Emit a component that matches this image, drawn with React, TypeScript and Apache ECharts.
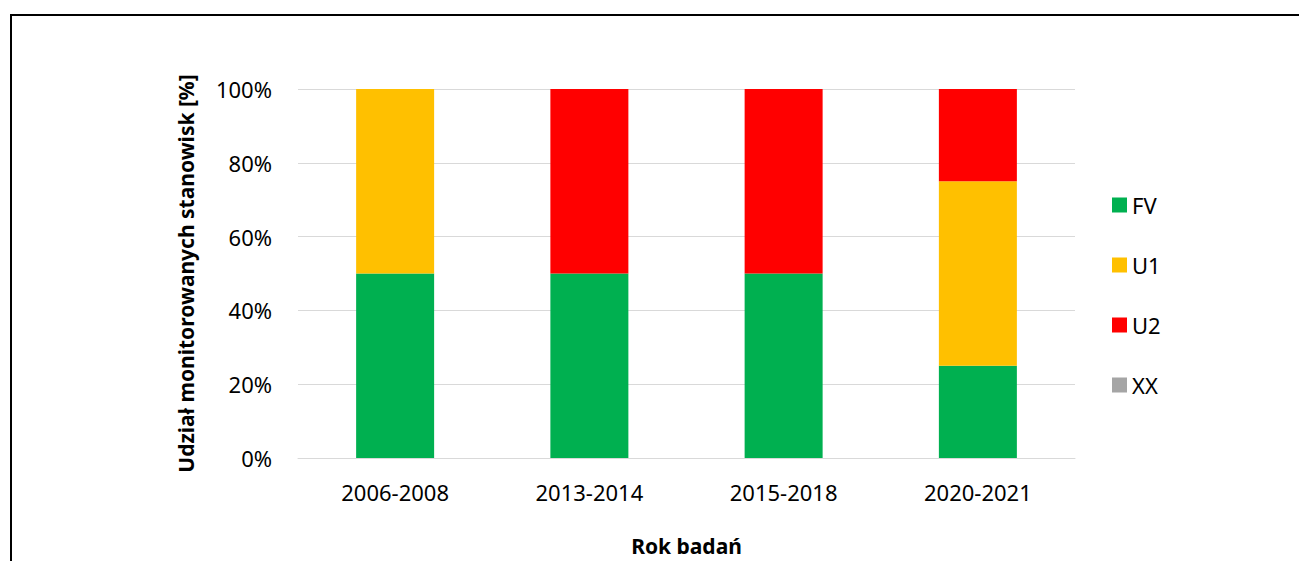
import React, { useEffect, useRef } from "react";
import * as echarts from "echarts";

const categories = ["2006-2008", "2013-2014", "2015-2018", "2020-2021"];
const seriesNames = ["FV", "U1", "U2", "XX"];
const fvValues = [50, 50, 50, 25];
const u1Values = [50, 0, 0, 50];
const u2Values = [0, 50, 50, 25];
const xxValues = [0, 0, 0, 0];
const seriesColors = ["#00B050", "#FFC000", "#FF0000", "#A5A5A5"];
const yTicks = [0, 20, 40, 60, 80, 100];

const FONT = "'Noto Sans', 'Open Sans', sans-serif";

export default function App() {
  const ref = useRef<HTMLDivElement>(null);
  useEffect(() => {
    if (!ref.current) return;
    const chart = echarts.init(ref.current, null, { renderer: "svg" });
    const values = [fvValues, u1Values, u2Values, xxValues];
    chart.setOption({
      animation: false,
      backgroundColor: "#ffffff",
      textStyle: { fontFamily: FONT },
      graphic: [
        {
          type: "polyline",
          shape: { points: [[11, 561], [11, 15], [1299, 15]] },
          style: { stroke: "#000", lineWidth: 2, fill: "none" },
          z: 100,
        },
      ],
      grid: { left: 298, right: 224, top: 89, bottom: 99, containLabel: false },
      legend: {
        orient: "vertical",
        left: 1112,
        top: 194,
        padding: 0,
        itemWidth: 15,
        itemHeight: 15,
        itemGap: 38,
        icon: "rect",
        data: seriesNames,
        textStyle: { fontFamily: FONT, fontSize: 22, lineHeight: 22, color: "#000" },
      },
      xAxis: {
        type: "category",
        data: categories,
        name: "Rok badań",
        nameLocation: "middle",
        nameGap: 77,
        nameTextStyle: { fontFamily: FONT, fontSize: 21, fontWeight: "bold", color: "#000" },
        axisLine: { lineStyle: { color: "#d9d9d9", width: 1 } },
        axisTick: { show: false },
        axisLabel: { fontFamily: FONT, fontSize: 22, color: "#000", margin: 23 },
      },
      yAxis: {
        type: "value",
        min: yTicks[0],
        max: yTicks[yTicks.length - 1],
        interval: 20,
        name: "Udział monitorowanych stanowisk [%]",
        nameLocation: "middle",
        nameGap: 102,
        nameTextStyle: { fontFamily: FONT, fontSize: 21, fontWeight: "bold", color: "#000" },
        axisLine: { show: false },
        axisTick: { show: false },
        splitLine: { lineStyle: { color: "#d9d9d9", width: 1 } },
        axisLabel: { fontFamily: FONT, fontSize: 22, color: "#000", margin: 26, formatter: "{value}%" },
      },
      series: seriesNames.map((name, i) => ({
        name,
        type: "bar",
        stack: "total",
        barWidth: 78,
        data: values[i],
        itemStyle: { color: seriesColors[i] },
      })),
    });
    return () => chart.dispose();
  }, []);
  return (
    <div
      ref={ref}
      style={{ position: "fixed", left: 0, top: 0, width: 1299, height: 561, background: "#fff" }}
    />
  );
}
